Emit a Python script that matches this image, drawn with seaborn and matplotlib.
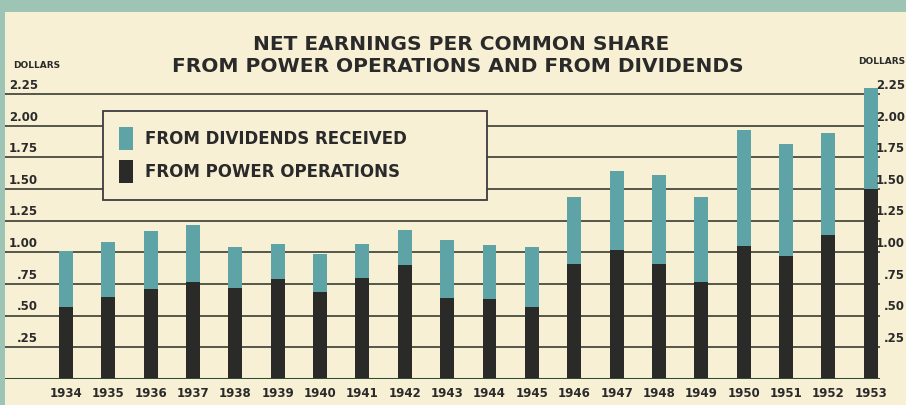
import matplotlib
matplotlib.use("Agg")
import matplotlib.pyplot as plt
from matplotlib.patches import Rectangle
from matplotlib import font_manager
import seaborn as sns
import numpy as np

# ---- data ----
years = ["1934", "1935", "1936", "1937", "1938", "1939", "1940", "1941", "1942", "1943",
         "1944", "1945", "1946", "1947", "1948", "1949", "1950", "1951", "1952", "1953"]
power_ops = [0.57, 0.65, 0.71, 0.77, 0.72, 0.79, 0.69, 0.80, 0.90, 0.64,
             0.63, 0.57, 0.91, 1.02, 0.91, 0.77, 1.05, 0.97, 1.14, 1.50]
dividends = [0.44, 0.43, 0.46, 0.45, 0.32, 0.28, 0.30, 0.27, 0.28, 0.46,
             0.43, 0.47, 0.53, 0.62, 0.70, 0.67, 0.92, 0.89, 0.80, 0.80]
ytick_values = [0.25, 0.50, 0.75, 1.00, 1.25, 1.50, 1.75, 2.00, 2.25]
ytick_labels = [".25", ".50", ".75", "1.00", "1.25", "1.50", "1.75", "2.00", "2.25"]
title_lines = ["NET EARNINGS PER COMMON SHARE", "FROM POWER OPERATIONS AND FROM DIVIDENDS"]
legend_labels = ["FROM DIVIDENDS RECEIVED", "FROM POWER OPERATIONS"]
unit_label = "DOLLARS"

totals = [p + d for p, d in zip(power_ops, dividends)]

# ---- style ----
sns.set_style("white")
names = {f.name for f in font_manager.fontManager.ttflist}
narrow_ok = "Liberation Sans Narrow" in names
NARROW = ["Liberation Sans Narrow", "DejaVu Sans"] if narrow_ok else ["DejaVu Sans"]
plt.rcParams["font.family"] = ["DejaVu Sans"]

cream = "#f7f0d4"
border = "#9dc4b4"
teal = "#5ea4a6"
dark = "#2a2a28"
grid = "#464a3e"
base = "#2f4a34"
text_c = "#2a2a2a"

W, H = 906, 405
fig = plt.figure(figsize=(W / 100, H / 100), dpi=100)
fig.patch.set_facecolor(border)
bg = Rectangle((5 / W, 0), 1, (H - 12) / H, transform=fig.transFigure,
               facecolor=cream, edgecolor="none", zorder=-10)
fig.patches.append(bg)

zero_px = 379
top_val = 2.30
px_per = 126.6
ax_h = top_val * px_per
ax = fig.add_axes([5 / W, (H - zero_px) / H, 875 / W, ax_h / H])
ax.set_facecolor("none")

sns.barplot(x=years, y=totals, color=teal, width=0.33, saturation=1, ax=ax,
            label=legend_labels[0], zorder=2, edgecolor="none", linewidth=0)
sns.barplot(x=years, y=power_ops, color=dark, width=0.33, saturation=1, ax=ax,
            label=legend_labels[1], zorder=2, edgecolor="none", linewidth=0)

ax.set_xlim(-1.44, 19.22)
ax.set_ylim(0, top_val)
ax.set_yticks(ytick_values)
ax.set_yticklabels([])
ax.yaxis.grid(True, color=grid, lw=1.3)
ax.xaxis.grid(False)
ax.set_axisbelow(True)
ax.tick_params(axis="both", length=0)
ax.tick_params(axis="x", pad=6)
for s in ax.spines.values():
    s.set_visible(False)
ax.axhline(0, color=base, lw=2.2, zorder=3)
ax.set_xlabel("")
ax.set_ylabel("")
ax.set_xticks(range(len(years)))
tick_fs = 10.5 if narrow_ok else 8.5
ax.set_xticklabels(years, fontsize=tick_fs, fontweight="bold", color=text_c, family=NARROW)

# y labels on both sides, sitting on their gridlines
ytr = ax.get_yaxis_transform()
for v, lab in zip(ytick_values, ytick_labels):
    ax.text((38 - 5) / 875, v + 0.018, lab, transform=ytr, ha="right", va="bottom",
            fontsize=tick_fs, fontweight="bold", color=text_c, family=NARROW, clip_on=False)
    ax.text((905 - 5) / 875, v + 0.018, lab, transform=ytr, ha="right", va="bottom",
            fontsize=tick_fs, fontweight="bold", color=text_c, family=NARROW, clip_on=False)

fig.text(13 / W, 1 - 66 / H, unit_label, ha="left", va="center", fontsize=6.5,
         fontweight="bold", color=text_c, family=NARROW)
fig.text(905 / W, 1 - 62 / H, unit_label, ha="right", va="center", fontsize=6.5,
         fontweight="bold", color=text_c, family=NARROW)

fig.text(461 / W, 1 - 45 / H, title_lines[0], ha="center", va="center", fontsize=14.5,
         fontweight="bold", color=text_c)
fig.text(458 / W, 1 - 67 / H, title_lines[1], ha="center", va="center", fontsize=14.5,
         fontweight="bold", color=text_c)

handles, labels = ax.get_legend_handles_labels()
leg = ax.legend(handles[:2], labels[:2], loc="upper left",
                bbox_to_anchor=(103 / W, 1 - 201 / H, 384 / W, 90 / H),
                bbox_transform=fig.transFigure, mode="expand", borderaxespad=0,
                frameon=True, fancybox=False, framealpha=1, facecolor=cream,
                edgecolor="#3d3a40", handlelength=0.8, handleheight=1.75,
                handletextpad=0.75, labelspacing=0.6, borderpad=0.98,
                prop={"weight": "bold", "size": 12})
leg.get_frame().set_linewidth(1.3)
for t in leg.get_texts():
    t.set_color(text_c)
leg.set_zorder(5)

fig.savefig("out.png", dpi=100, facecolor=fig.get_facecolor())
